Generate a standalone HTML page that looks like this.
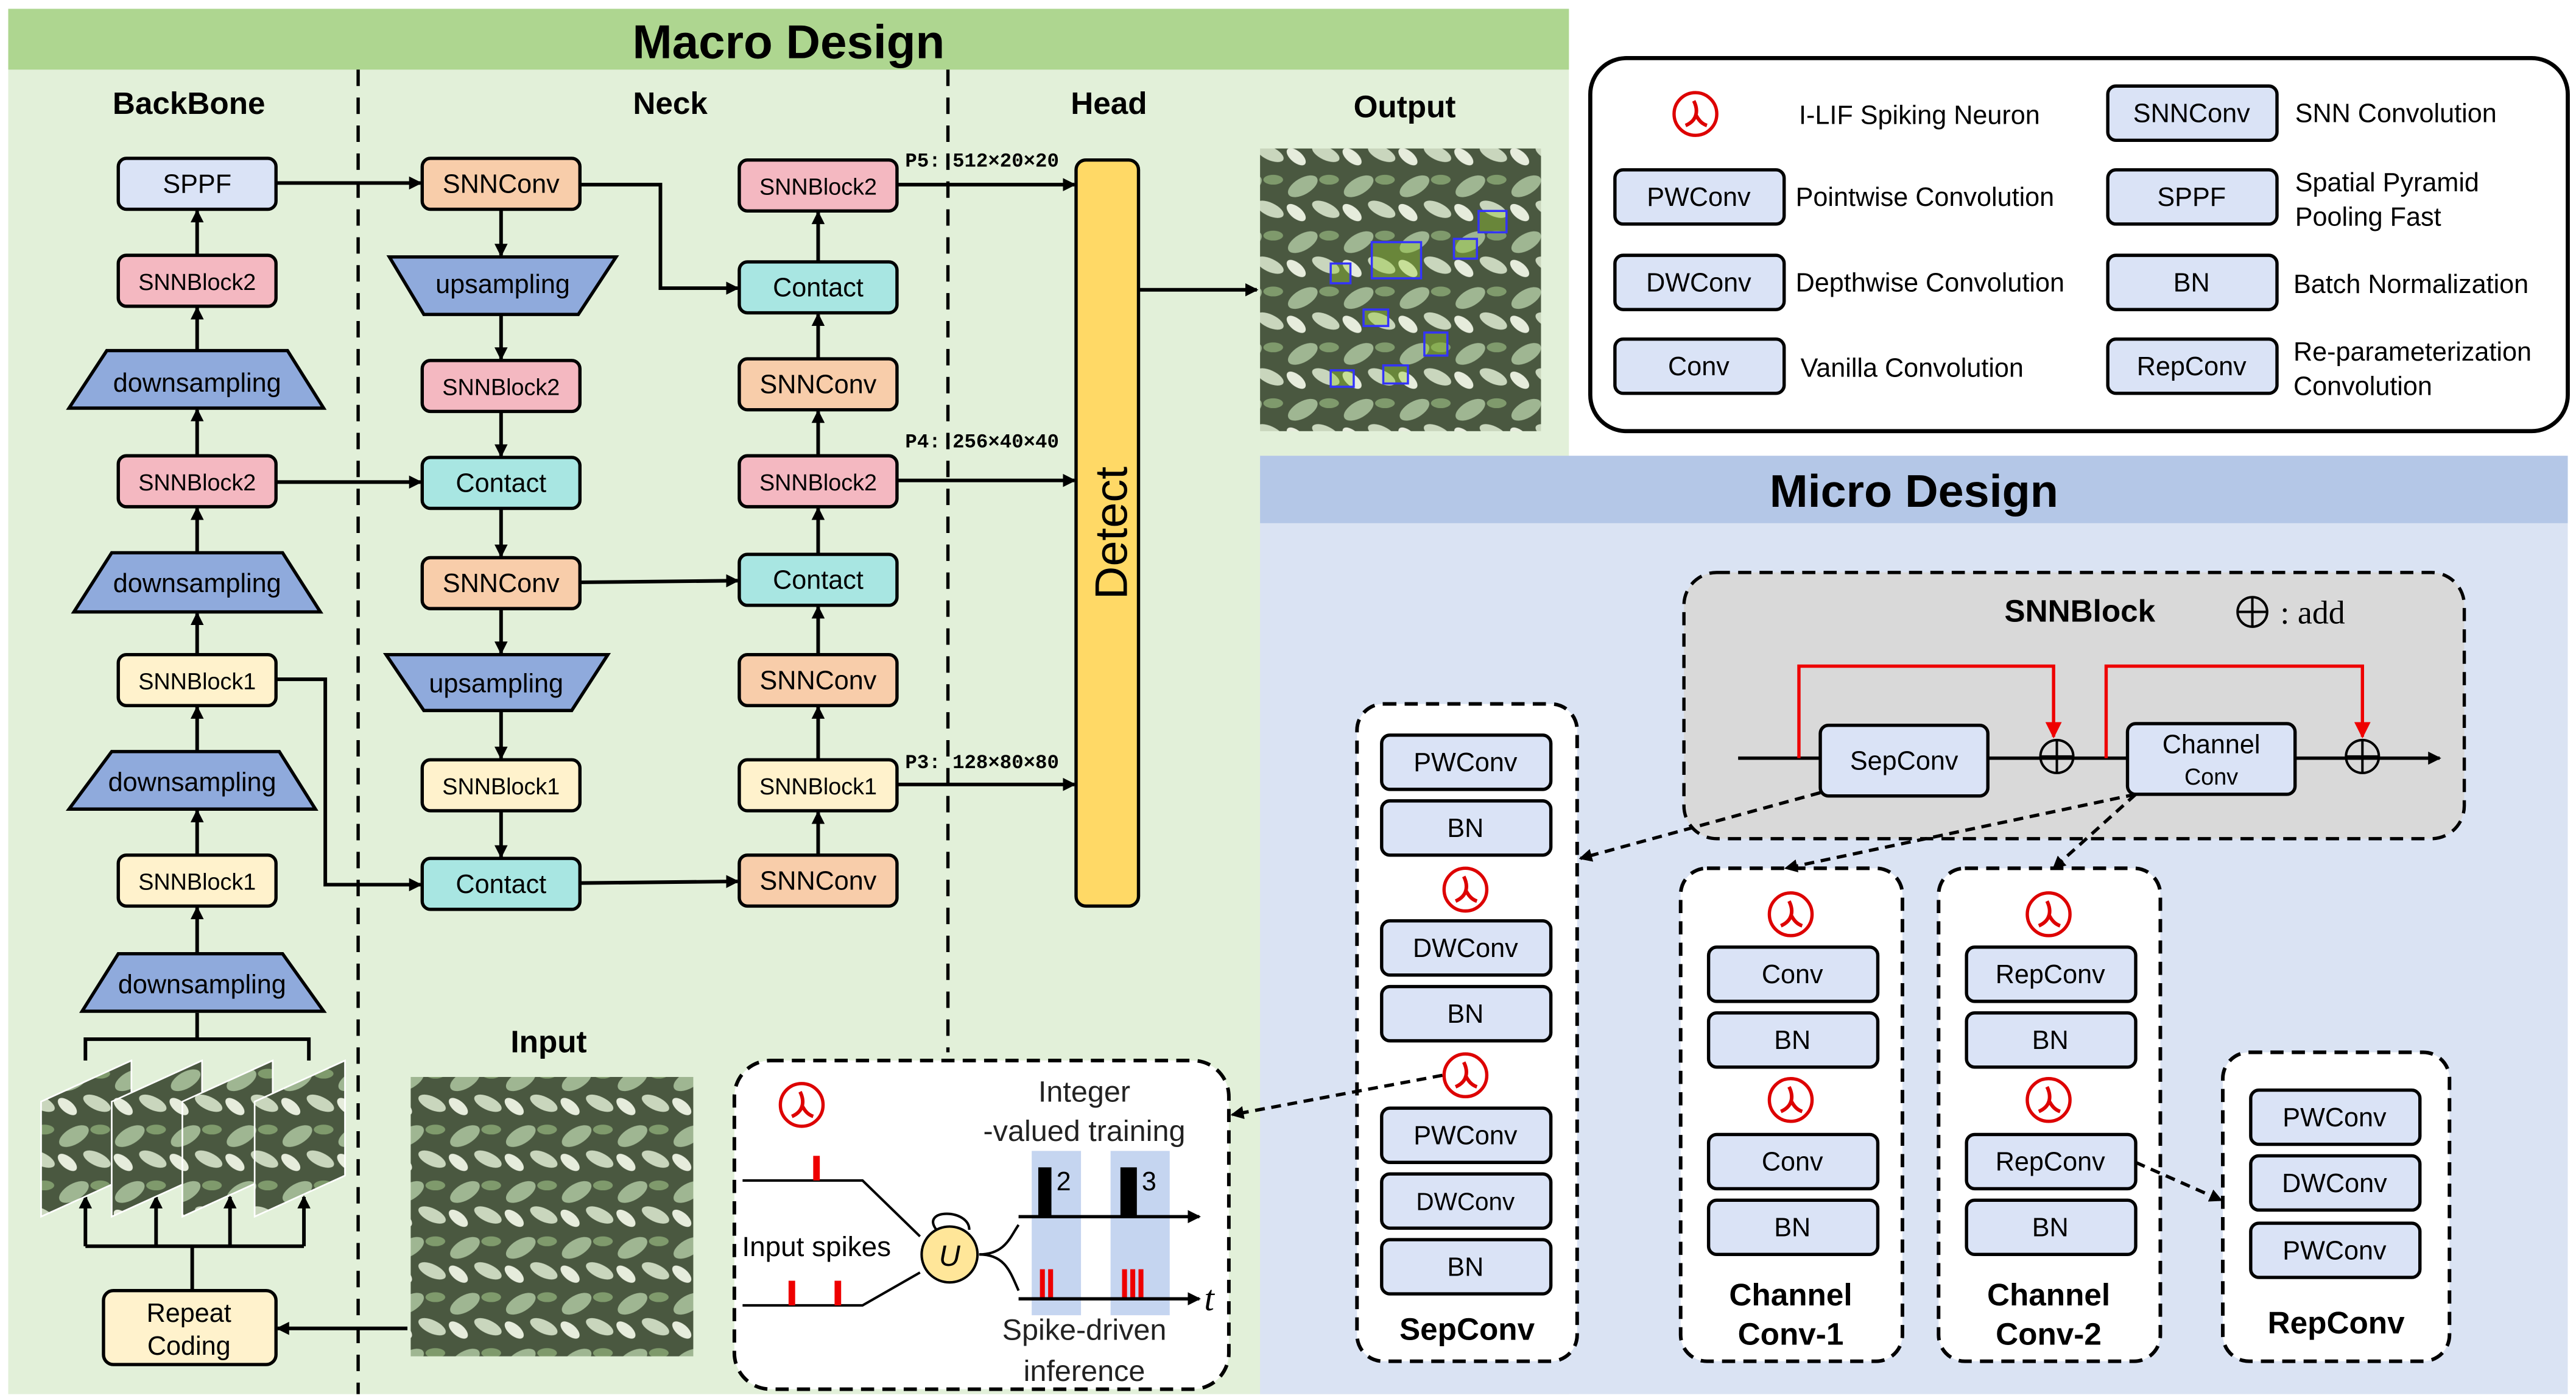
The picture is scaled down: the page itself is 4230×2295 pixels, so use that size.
<!DOCTYPE html>
<html><head><meta charset="utf-8"><style>html,body{margin:0;padding:0;background:#fff}svg{display:block}</style></head>
<body>
<svg width="4230" height="2295" viewBox="0 0 1568 850" xmlns="http://www.w3.org/2000/svg" font-family="Liberation Sans, sans-serif">
<defs>
<marker id="a" markerWidth="8" markerHeight="8" refX="7" refY="4" orient="auto" markerUnits="userSpaceOnUse"><path d="M0,0 L8,4 L0,8 z" fill="#000"/></marker>
<marker id="r" markerWidth="10" markerHeight="10" refX="9" refY="5" orient="auto" markerUnits="userSpaceOnUse"><path d="M0,0 L10,5 L0,10 z" fill="#e00"/></marker>
<g id="neu"><circle r="13" fill="#fff" stroke="#d00" stroke-width="2"/><path d="M-1,-8 C2,-2 1,4 -6,7 M0,0 C2,4 4,6 7,7" stroke="#d00" stroke-width="2.2" fill="none"/></g>
<pattern id="leaf" width="34" height="34" patternUnits="userSpaceOnUse"><rect width="34" height="34" fill="#4a5840"/><ellipse cx="11" cy="11" rx="10" ry="5" fill="#9fb692" transform="rotate(-30 11 11)"/><ellipse cx="25" cy="25" rx="9" ry="4" fill="#c9d6bd" transform="rotate(25 25 25)"/><ellipse cx="27" cy="7" rx="6" ry="3" fill="#7f9a6c"/><ellipse cx="7" cy="27" rx="7" ry="3.5" fill="#e6ecdc" transform="rotate(40 7 27)"/></pattern>
</defs>
<rect x="5" y="5" width="950" height="843" fill="#e2f0d9"/>
<rect x="5" y="5" width="950" height="37" fill="#aed690"/>
<text x="480" y="35" font-size="29" font-weight="bold" text-anchor="middle">Macro Design</text>
<g stroke="#000" stroke-width="2" stroke-dasharray="10,7"><line x1="218" y1="42" x2="218" y2="848"/><line x1="577" y1="42" x2="577" y2="640"/></g>
<g font-size="19" font-weight="bold" text-anchor="middle"><text x="115" y="69">BackBone</text><text x="408" y="69">Neck</text><text x="675" y="69">Head</text><text x="855" y="71">Output</text><text x="334" y="640">Input</text></g>
<g stroke="#000" stroke-width="2" font-size="15" text-anchor="middle">
<rect x="72" y="96" width="96" height="31" rx="5" fill="#dae3f6"/>
<rect x="72" y="155" width="96" height="31" rx="5" fill="#f4b8c1"/>
<rect x="72" y="277" width="96" height="31" rx="5" fill="#f4b8c1"/>
<rect x="72" y="398" width="96" height="31" rx="5" fill="#fff2cc"/>
<rect x="72" y="520" width="96" height="31" rx="5" fill="#fff2cc"/>
<path d="M65,213 H175 L197,248 H42 Z" fill="#8faadc"/>
<path d="M68,336 H172 L195,372 H45 Z" fill="#8faadc"/>
<path d="M68,457 H170 L192,492 H42 Z" fill="#8faadc"/>
<path d="M72,580 H172 L197,615 H50 Z" fill="#8faadc"/>
<rect x="257" y="96" width="96" height="31" rx="5" fill="#f8cdaa"/>
<path d="M237,156 H375 L352,191 H258 Z" fill="#8faadc"/>
<rect x="257" y="219" width="96" height="31" rx="5" fill="#f4b8c1"/>
<rect x="257" y="278" width="96" height="31" rx="5" fill="#a8e6e2"/>
<rect x="257" y="339" width="96" height="31" rx="5" fill="#f8cdaa"/>
<path d="M235,398 H370 L348,432 H258 Z" fill="#8faadc"/>
<rect x="257" y="462" width="96" height="31" rx="5" fill="#fff2cc"/>
<rect x="257" y="522" width="96" height="31" rx="5" fill="#a8e6e2"/>
<rect x="450" y="97" width="96" height="31" rx="5" fill="#f4b8c1"/>
<rect x="450" y="159" width="96" height="31" rx="5" fill="#a8e6e2"/>
<rect x="450" y="218" width="96" height="31" rx="5" fill="#f8cdaa"/>
<rect x="450" y="277" width="96" height="31" rx="5" fill="#f4b8c1"/>
<rect x="450" y="337" width="96" height="31" rx="5" fill="#a8e6e2"/>
<rect x="450" y="398" width="96" height="31" rx="5" fill="#f8cdaa"/>
<rect x="450" y="462" width="96" height="31" rx="5" fill="#fff2cc"/>
<rect x="450" y="520" width="96" height="31" rx="5" fill="#f8cdaa"/>
<rect x="655" y="97" width="38" height="454" rx="6" fill="#ffd966"/>
<rect x="63" y="785" width="105" height="45" rx="6" fill="#fff2cc"/>
</g>
<g font-size="16" text-anchor="middle">
<text x="120" y="117">SPPF</text><text x="120" y="176" font-size="14">SNNBlock2</text><text x="120" y="238">downsampling</text>
<text x="120" y="298" font-size="14">SNNBlock2</text><text x="120" y="360">downsampling</text><text x="120" y="419" font-size="14">SNNBlock1</text>
<text x="117" y="481">downsampling</text><text x="120" y="541" font-size="14">SNNBlock1</text><text x="123" y="604">downsampling</text>
<text x="305" y="117">SNNConv</text><text x="306" y="178">upsampling</text><text x="305" y="240" font-size="14">SNNBlock2</text>
<text x="305" y="299">Contact</text><text x="305" y="360">SNNConv</text><text x="302" y="421">upsampling</text>
<text x="305" y="483" font-size="14">SNNBlock1</text><text x="305" y="543">Contact</text>
<text x="498" y="118" font-size="14">SNNBlock2</text><text x="498" y="180">Contact</text><text x="498" y="239">SNNConv</text>
<text x="498" y="298" font-size="14">SNNBlock2</text><text x="498" y="358">Contact</text><text x="498" y="419">SNNConv</text>
<text x="498" y="483" font-size="14">SNNBlock1</text><text x="498" y="541">SNNConv</text>
<text x="115" y="804">Repeat</text><text x="115" y="824">Coding</text>
</g>
<text transform="translate(686,324) rotate(-90)" font-size="28" text-anchor="middle">Detect</text>
<g font-size="12" font-weight="bold" font-family="Liberation Mono, monospace"><text x="551" y="101">P5: 512×20×20</text><text x="551" y="272">P4: 256×40×40</text><text x="551" y="467">P3: 128×80×80</text></g>
<g stroke="#000" stroke-width="2.2" fill="none" marker-end="url(#a)">
<line x1="120" y1="155" x2="120" y2="128"/><line x1="120" y1="213" x2="120" y2="187"/><line x1="120" y1="277" x2="120" y2="249"/>
<line x1="120" y1="336" x2="120" y2="309"/><line x1="120" y1="398" x2="120" y2="373"/><line x1="120" y1="457" x2="120" y2="430"/>
<line x1="120" y1="520" x2="120" y2="493"/><line x1="120" y1="580" x2="120" y2="552"/>
<line x1="168" y1="111" x2="256" y2="111"/><polyline points="353,112 402,112 402,175 449,175"/>
<line x1="305" y1="127" x2="305" y2="155"/><line x1="305" y1="191" x2="305" y2="218"/><line x1="305" y1="250" x2="305" y2="277"/>
<line x1="305" y1="309" x2="305" y2="338"/><line x1="305" y1="370" x2="305" y2="397"/><line x1="305" y1="432" x2="305" y2="461"/><line x1="305" y1="493" x2="305" y2="521"/>
<line x1="168" y1="293" x2="256" y2="293"/><line x1="353" y1="354" x2="449" y2="353"/>
<polyline points="168,413 198,413 198,538 256,538"/><line x1="353" y1="537" x2="449" y2="536"/>
<line x1="498" y1="520" x2="498" y2="494"/><line x1="498" y1="462" x2="498" y2="430"/><line x1="498" y1="398" x2="498" y2="369"/>
<line x1="498" y1="337" x2="498" y2="309"/><line x1="498" y1="277" x2="498" y2="250"/><line x1="498" y1="218" x2="498" y2="191"/><line x1="498" y1="159" x2="498" y2="129"/>
<line x1="546" y1="112" x2="654" y2="112"/><line x1="546" y1="292" x2="654" y2="292"/><line x1="546" y1="477" x2="654" y2="477"/>
<line x1="693" y1="176" x2="765" y2="176"/><line x1="248" y1="808" x2="169" y2="808"/>
<line x1="52" y1="758" x2="52" y2="728"/><line x1="95" y1="758" x2="95" y2="728"/><line x1="140" y1="758" x2="140" y2="728"/><line x1="185" y1="758" x2="185" y2="728"/>
</g>
<g stroke="#000" stroke-width="2.2" fill="none"><polyline points="52,645 52,632 188,632 188,645"/><line x1="120" y1="632" x2="120" y2="616"/><line x1="52" y1="758" x2="185" y2="758"/><line x1="117" y1="758" x2="117" y2="785"/></g>
<g stroke="#fff" stroke-width="1"><path d="M25,670 L80,645 L80,715 L25,740 Z" fill="url(#leaf)"/><path d="M68,670 L123,645 L123,715 L68,740 Z" fill="url(#leaf)"/><path d="M111,670 L166,645 L166,715 L111,740 Z" fill="url(#leaf)"/><path d="M155,670 L210,645 L210,715 L155,740 Z" fill="url(#leaf)"/></g>
<rect x="250" y="655" width="172" height="170" fill="url(#leaf)"/>
<rect x="767" y="90" width="171" height="172" fill="url(#leaf)"/>
<g stroke="#33f" stroke-width="1.3" fill="#9c3" fill-opacity="0.4"><rect x="835" y="147" width="30" height="22"/><rect x="810" y="160" width="12" height="12"/><rect x="830" y="188" width="15" height="10"/><rect x="885" y="145" width="14" height="12"/><rect x="900" y="128" width="17" height="13"/><rect x="867" y="202" width="14" height="14"/><rect x="842" y="222" width="15" height="11"/><rect x="810" y="225" width="14" height="10"/></g>
<rect x="968" y="35" width="595" height="227" rx="22" fill="#fff" stroke="#000" stroke-width="2.5"/>
<use href="#neu" x="1032" y="69"/>
<g stroke="#000" stroke-width="2" fill="#dae3f6">
<rect x="983" y="103" width="103" height="33" rx="5"/><rect x="983" y="155" width="103" height="33" rx="5"/><rect x="983" y="206" width="103" height="33" rx="5"/>
<rect x="1283" y="52" width="103" height="33" rx="5"/><rect x="1283" y="103" width="103" height="33" rx="5"/><rect x="1283" y="155" width="103" height="33" rx="5"/><rect x="1283" y="206" width="103" height="33" rx="5"/>
</g>
<g font-size="16">
<g text-anchor="middle"><text x="1034" y="125">PWConv</text><text x="1034" y="177">DWConv</text><text x="1034" y="228">Conv</text>
<text x="1334" y="74">SNNConv</text><text x="1334" y="125">SPPF</text><text x="1334" y="177">BN</text><text x="1334" y="228">RepConv</text></g>
<text x="1095" y="75">I-LIF Spiking Neuron</text><text x="1093" y="125">Pointwise Convolution</text><text x="1093" y="177">Depthwise Convolution</text><text x="1096" y="229">Vanilla Convolution</text>
<text x="1397" y="116">Spatial Pyramid</text><text x="1397" y="137">Pooling Fast</text><text x="1396" y="178">Batch Normalization</text>
<text x="1396" y="219">Re-parameterization</text><text x="1396" y="240">Convolution</text><text x="1397" y="74">SNN Convolution</text>
</g>
<rect x="767" y="277" width="796" height="571" fill="#dae3f3"/>
<rect x="767" y="277" width="796" height="41" fill="#b4c7e7"/>
<text x="1165" y="308" font-size="28" font-weight="bold" text-anchor="middle">Micro Design</text>
<rect x="1025" y="348" width="475" height="162" rx="20" fill="#d9d9d9" stroke="#000" stroke-width="2" stroke-dasharray="8,5"/>
<text x="1266" y="378" font-size="19" font-weight="bold" text-anchor="middle">SNNBlock</text>
<circle cx="1371" cy="372" r="9" fill="none" stroke="#000" stroke-width="1.5"/><path d="M1362,372 H1380 M1371,363 V381" stroke="#000" stroke-width="1.5"/>
<text x="1388" y="379" font-size="20" font-family="Liberation Serif, serif">: add</text>
<g stroke="#000" stroke-width="2"><line x1="1058" y1="461" x2="1108" y2="461"/><line x1="1210" y1="461" x2="1295" y2="461"/><line x1="1397" y1="461" x2="1485" y2="461" marker-end="url(#a)"/></g>
<g stroke="#000" stroke-width="1.5" fill="none"><circle cx="1252" cy="460" r="10"/><path d="M1242,460 H1262 M1252,450 V470"/><circle cx="1438" cy="460" r="10"/><path d="M1428,460 H1448 M1438,450 V470"/></g>
<g stroke="#e00" stroke-width="2" fill="none"><polyline points="1095,461 1095,405 1250,405 1250,448" marker-end="url(#r)"/><polyline points="1282,461 1282,405 1438,405 1438,448" marker-end="url(#r)"/></g>
<rect x="1108" y="441" width="102" height="43" rx="5" fill="#dae3f6" stroke="#000" stroke-width="2"/>
<rect x="1295" y="440" width="102" height="43" rx="5" fill="#dae3f6" stroke="#000" stroke-width="2"/>
<text x="1159" y="468" font-size="16" text-anchor="middle">SepConv</text>
<text x="1346" y="458" font-size="16" text-anchor="middle">Channel</text><text x="1346" y="477" font-size="14" text-anchor="middle">Conv</text>
<g fill="#fff" stroke="#000" stroke-width="2.2" stroke-dasharray="8,5">
<rect x="826" y="428" width="134" height="400" rx="16"/><rect x="1023" y="528" width="135" height="300" rx="16"/><rect x="1180" y="528" width="135" height="300" rx="16"/><rect x="1353" y="640" width="138" height="188" rx="16"/>
<rect x="447" y="645" width="301" height="200" rx="22"/>
</g>
<g stroke="#000" stroke-width="2" stroke-dasharray="6,4" fill="none" marker-end="url(#a)">
<line x1="1108" y1="482" x2="962" y2="522"/><line x1="1300" y1="483" x2="1087" y2="528"/><line x1="1300" y1="483" x2="1250" y2="528"/>
<line x1="1300" y1="707" x2="1352" y2="730"/><line x1="878" y1="654" x2="750" y2="678"/>
</g>
<g stroke="#000" stroke-width="2" fill="#dae3f6">
<rect x="841" y="447" width="103" height="33" rx="5"/><rect x="841" y="487" width="103" height="33" rx="5"/><rect x="841" y="560" width="103" height="33" rx="5"/><rect x="841" y="600" width="103" height="33" rx="5"/>
<rect x="841" y="674" width="103" height="33" rx="5"/><rect x="841" y="714" width="103" height="33" rx="5"/><rect x="841" y="754" width="103" height="33" rx="5"/>
<rect x="1040" y="576" width="103" height="33" rx="5"/><rect x="1040" y="616" width="103" height="33" rx="5"/><rect x="1040" y="690" width="103" height="33" rx="5"/><rect x="1040" y="730" width="103" height="33" rx="5"/>
<rect x="1197" y="576" width="103" height="33" rx="5"/><rect x="1197" y="616" width="103" height="33" rx="5"/><rect x="1197" y="690" width="103" height="33" rx="5"/><rect x="1197" y="730" width="103" height="33" rx="5"/>
<rect x="1370" y="663" width="103" height="33" rx="5"/><rect x="1370" y="703" width="103" height="33" rx="5"/><rect x="1370" y="744" width="103" height="33" rx="5"/>
</g>
<use href="#neu" x="892" y="541"/><use href="#neu" x="892" y="654"/><use href="#neu" x="1090" y="556"/><use href="#neu" x="1090" y="669"/><use href="#neu" x="1247" y="556"/><use href="#neu" x="1247" y="669"/><use href="#neu" x="488" y="672"/>
<g font-size="16" text-anchor="middle">
<text x="892" y="469">PWConv</text><text x="892" y="509">BN</text><text x="892" y="582">DWConv</text><text x="892" y="622">BN</text><text x="892" y="696">PWConv</text><text x="892" y="736" font-size="15">DWConv</text><text x="892" y="776">BN</text>
<text x="1091" y="598">Conv</text><text x="1091" y="638">BN</text><text x="1091" y="712">Conv</text><text x="1091" y="752">BN</text>
<text x="1248" y="598">RepConv</text><text x="1248" y="638">BN</text><text x="1248" y="712">RepConv</text><text x="1248" y="752">BN</text>
<text x="1421" y="685">PWConv</text><text x="1421" y="725">DWConv</text><text x="1421" y="766">PWConv</text>
<g font-size="19" font-weight="bold"><text x="893" y="815">SepConv</text><text x="1090" y="794">Channel</text><text x="1090" y="818">Conv-1</text><text x="1247" y="794">Channel</text><text x="1247" y="818">Conv-2</text><text x="1422" y="811">RepConv</text></g>
</g>
<g font-size="18" text-anchor="middle" fill="#222"><text x="660" y="670">Integer</text><text x="660" y="694">-valued training</text><text x="660" y="815">Spike-driven</text><text x="660" y="840">inference</text></g>
<text x="497" y="764" font-size="17" text-anchor="middle">Input spikes</text>
<g stroke="#000" stroke-width="1.5" fill="none"><path d="M452,718 H525 L560,752"/><path d="M452,794 H525 L560,774"/><path d="M596,763 C612,763 615,752 620,745"/><path d="M596,763 C612,763 615,774 620,785"/><path d="M570,748 C560,735 590,735 590,748"/></g>
<circle cx="578" cy="763" r="17" fill="#ffe699" stroke="#000" stroke-width="1.5"/><text x="578" y="770" font-size="18" font-style="italic" text-anchor="middle">U</text>
<g fill="#e00"><rect x="495" y="703" width="4" height="15"/><rect x="480" y="779" width="4" height="15"/><rect x="508" y="779" width="4" height="15"/></g>
<g fill="#c5d5f0"><rect x="628" y="700" width="30" height="100"/><rect x="676" y="700" width="36" height="100"/></g>
<g fill="#000"><rect x="632" y="710" width="8" height="30"/><rect x="682" y="710" width="10" height="30"/></g>
<g fill="#e00"><rect x="633" y="772" width="3" height="18"/><rect x="638" y="772" width="3" height="18"/><rect x="683" y="772" width="3" height="18"/><rect x="688" y="772" width="3" height="18"/><rect x="693" y="772" width="3" height="18"/></g>
<g stroke="#000" stroke-width="2" marker-end="url(#a)"><line x1="620" y1="740" x2="730" y2="740"/><line x1="620" y1="790" x2="730" y2="790"/></g>
<text x="643" y="724" font-size="16">2</text><text x="695" y="724" font-size="16">3</text><text x="733" y="797" font-size="22" font-style="italic" font-family="Liberation Serif, serif">t</text>
</svg>
</body></html>
